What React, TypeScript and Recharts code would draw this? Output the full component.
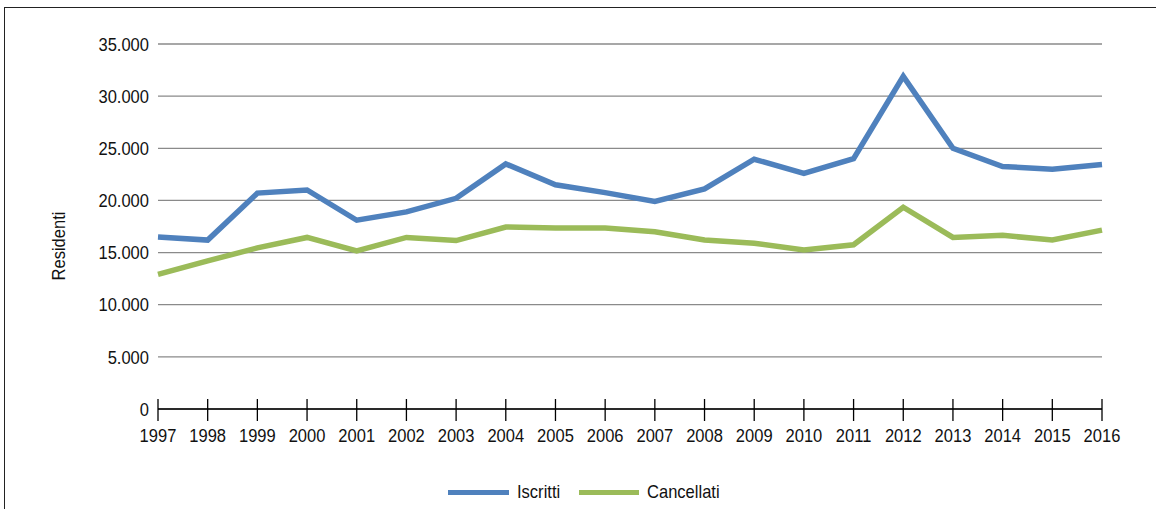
import React from 'react';
import { LineChart, Line, XAxis, YAxis, CartesianGrid, Legend } from 'recharts';

const years = ['1997','1998','1999','2000','2001','2002','2003','2004','2005','2006','2007','2008','2009','2010','2011','2012','2013','2014','2015','2016'];
const iscritti = [16500,16200,20700,21000,18100,18900,20200,23500,21500,20750,19900,21100,23950,22600,24000,31900,25000,23250,23000,23450];
const cancellati = [12900,14200,15450,16450,15150,16450,16150,17450,17350,17350,17000,16200,15900,15250,15750,19350,16450,16650,16200,17150];
const yTicks = [0,5000,10000,15000,20000,25000,30000,35000];

const data = years.map((y, i) => ({ year: y, Iscritti: iscritti[i], Cancellati: cancellati[i] }));

const FONT = '"Liberation Sans", Arial, sans-serif';
const BLUE = '#4F81BD';
const GREEN = '#9BBB59';
const SX = 0.87;

const fmt = (v: number) => v === 0 ? '0' : v.toString().replace(/\B(?=(\d{3})+(?!\d))/g, '.');

const XTick = (props: any) => {
  const { x, y, payload } = props;
  return (
    <g>
      <line x1={x} x2={x} y1={y - 10} y2={y + 12} stroke="#000" strokeWidth={1.3} />
      <text transform={`translate(${x},${y + 33}) scale(${SX},1)`} x={0} y={0} textAnchor="middle" fontFamily={FONT} fontSize={19} fill="#111">{payload.value}</text>
    </g>
  );
};

const YTick = (props: any) => {
  const { x, y, payload } = props;
  return (
    <text transform={`translate(${x},${y}) scale(${SX},1)`} x={0} y={0} dy="0.355em" textAnchor="end" fontFamily={FONT} fontSize={19} fill="#111">{fmt(payload.value)}</text>
  );
};

const LegendContent = () => (
  <div style={{ display: 'flex', justifyContent: 'center', alignItems: 'center', height: 30, fontFamily: FONT, fontSize: 19, color: '#111', paddingLeft: 8 }}>
    <span style={{ display: 'inline-block', width: 61, height: 5, background: BLUE, marginRight: 8 }} />
    <span style={{ display: 'inline-block', width: 43, marginRight: 19, whiteSpace: 'nowrap' }}>
      <span style={{ display: 'inline-block', transform: `scaleX(${SX})`, transformOrigin: 'left center' }}>Iscritti</span>
    </span>
    <span style={{ display: 'inline-block', width: 60, height: 5, background: GREEN, marginRight: 8 }} />
    <span style={{ display: 'inline-block', width: 73, whiteSpace: 'nowrap' }}>
      <span style={{ display: 'inline-block', transform: `scaleX(${SX})`, transformOrigin: 'left center' }}>Cancellati</span>
    </span>
  </div>
);

const YLabel = () => (
  <text transform={`translate(58,246) rotate(-90) scale(${SX},1)`} x={0} y={0} dy="0.355em" textAnchor="middle" fontFamily={FONT} fontSize={19} fill="#111">Residenti</text>
);

export default function App() {
  return (
    <div style={{ position: 'absolute', left: 0, top: 0, width: 1156, height: 509, overflow: 'hidden', background: '#fff' }}>
      <div style={{ position: 'absolute', left: 4, top: 7, width: 1170, height: 530, border: '1.5px solid #222', boxSizing: 'border-box' }} />
      <div style={{ position: 'absolute', left: 0, top: 0 }}>
        <LineChart width={1156} height={509} data={data} margin={{ top: 44, right: 54, bottom: 2, left: 58 }}>
          <CartesianGrid vertical={false} stroke="#8a8a8a" strokeWidth={1.3} />
          <XAxis dataKey="year" height={68} tick={<XTick />} tickLine={false} tickSize={0} tickMargin={0} axisLine={{ stroke: '#000', strokeWidth: 1.5 }} interval={0} />
          <YAxis width={100} domain={[0, 35000]} ticks={yTicks} axisLine={false} tickLine={false} tickSize={0} tickMargin={9}
            tick={<YTick />} label={<YLabel />} />
          <Legend verticalAlign="bottom" content={<LegendContent />} />
          <Line type="linear" dataKey="Iscritti" stroke={BLUE} strokeWidth={5.5} dot={false} isAnimationActive={false} />
          <Line type="linear" dataKey="Cancellati" stroke={GREEN} strokeWidth={5.5} dot={false} isAnimationActive={false} />
        </LineChart>
      </div>
    </div>
  );
}
